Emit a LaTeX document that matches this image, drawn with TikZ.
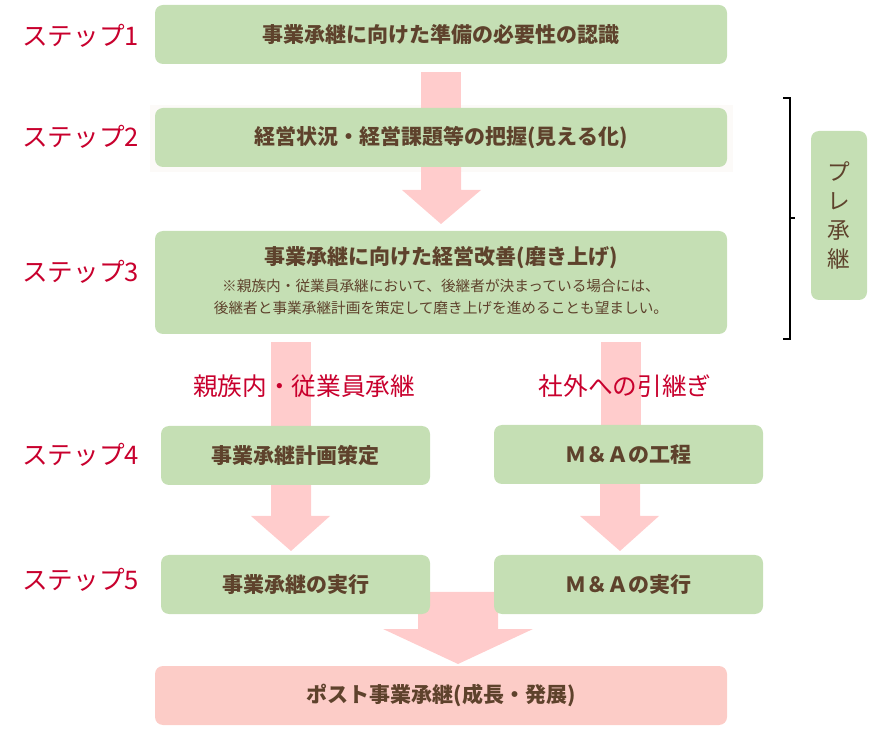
\documentclass[tikz,border=0pt]{standalone}
\usepackage{fontspec}
\newfontfamily\jpfont{Noto Sans CJK JP}
\definecolor{boxgreen}{RGB}{197,223,180}
\definecolor{arrowpink}{RGB}{255,204,204}
\definecolor{endpink}{RGB}{252,204,199}
\definecolor{textbrown}{RGB}{94,66,44}
\definecolor{stepred}{RGB}{200,0,45}
\definecolor{haze}{RGB}{252,250,248}

\begin{document}
\begin{tikzpicture}[x=0.75pt, y=-0.75pt,
  box/.style={fill=boxgreen, rounded corners=6pt, inner sep=0pt, text=textbrown, font=\jpfont\bfseries\fontsize{15.75pt}{18pt}\selectfont},
  wide/.style={minimum width=429pt, minimum height=44.25pt},
  narrow/.style={minimum width=201.75pt, minimum height=44.25pt},
  notetext/.style={text=textbrown, inner sep=0pt, align=center, font=\jpfont\fontsize{11pt}{16.5pt}\selectfont},
  steplabel/.style={anchor=west, inner sep=0pt, text=stepred, font=\jpfont\fontsize{19.2pt}{22pt}\selectfont},
  routelabel/.style={text=stepred, inner sep=0pt, font=\jpfont\fontsize{18.5pt}{22pt}\selectfont},
  blockarrow/.style={fill=arrowpink}]

\useasboundingbox (0,0) rectangle (883,734);

\fill[haze] (150,105) rectangle (733,172);

\fill[blockarrow] (421,72) rectangle (461,108);
\fill[blockarrow] (421,167) -- (461,167) -- (461,190) -- (481,190) -- (441,224) -- (402,190) -- (421,190) -- cycle;

\fill[blockarrow] (271,342) rectangle (311,427);
\fill[blockarrow] (601,342) rectangle (641,426);

\fill[blockarrow] (271,484) -- (311,484) -- (311,516) -- (330,516) -- (291,551) -- (251,516) -- (271,516) -- cycle;
\fill[blockarrow] (600,483) -- (640,483) -- (640,516) -- (659,516) -- (620,551) -- (580,516) -- (600,516) -- cycle;

\fill[blockarrow] (418,592) -- (498,592) -- (498,629) -- (533,629) -- (458,664) -- (383,629) -- (418,629) -- cycle;


\node[box, wide] (s1) at (441,34.5) {事業承継に向けた準備の必要性の認識};
\node[box, wide] (s2) at (441,137.5) {経営状況・経営課題等の把握(見える化)};
\node[box, wide, minimum height=77.25pt] (s3) at (441,282.5) {};
\node[text=textbrown, inner sep=0pt, font=\jpfont\bfseries\fontsize{15.75pt}{18pt}\selectfont] (s3title) at (441,258) {事業承継に向けた経営改善(磨き上げ)};
\node[notetext] (s3note) at (441,297) {※親族内・従業員承継において、後継者が決まっている場合には、\\後継者と事業承継計画を策定して磨き上げを進めることも望ましい。};

\node[box, narrow] (s4a) at (295.5,455.5) {事業承継計画策定};
\node[box, narrow] (s4b) at (628.5,454.5) {Ｍ＆Ａの工程};
\node[box, narrow] (s5a) at (295.5,584.5) {事業承継の実行};
\node[box, narrow] (s5b) at (628.5,584.5) {Ｍ＆Ａの実行};

\node[box, wide, fill=endpink] (post) at (441,695.5) {ポスト事業承継(成長・発展)};


\node[steplabel] (lab1) at (22,36) {ステップ1};
\node[steplabel] (lab2) at (22,137) {ステップ2};
\node[steplabel] (lab3) at (22,272) {ステップ3};
\node[steplabel] (lab4) at (22,455) {ステップ4};
\node[steplabel] (lab5) at (22,580) {ステップ5};

\node[routelabel] (family) at (304,386) {親族内・従業員承継};
\node[routelabel] (outside) at (625,386) {社外への引継ぎ};


\draw[line width=0.9pt] (783,98) -- (790,98) -- (790,339) -- (783,339);
\draw[line width=0.9pt] (790,218) -- (795,218);

\node[box, minimum width=42pt, minimum height=126.75pt, font=\jpfont\fontsize{17pt}{21.75pt}\selectfont, align=center] (pre) at (839,215.5) {プ\\レ\\承\\継};

\end{tikzpicture}
\end{document}
